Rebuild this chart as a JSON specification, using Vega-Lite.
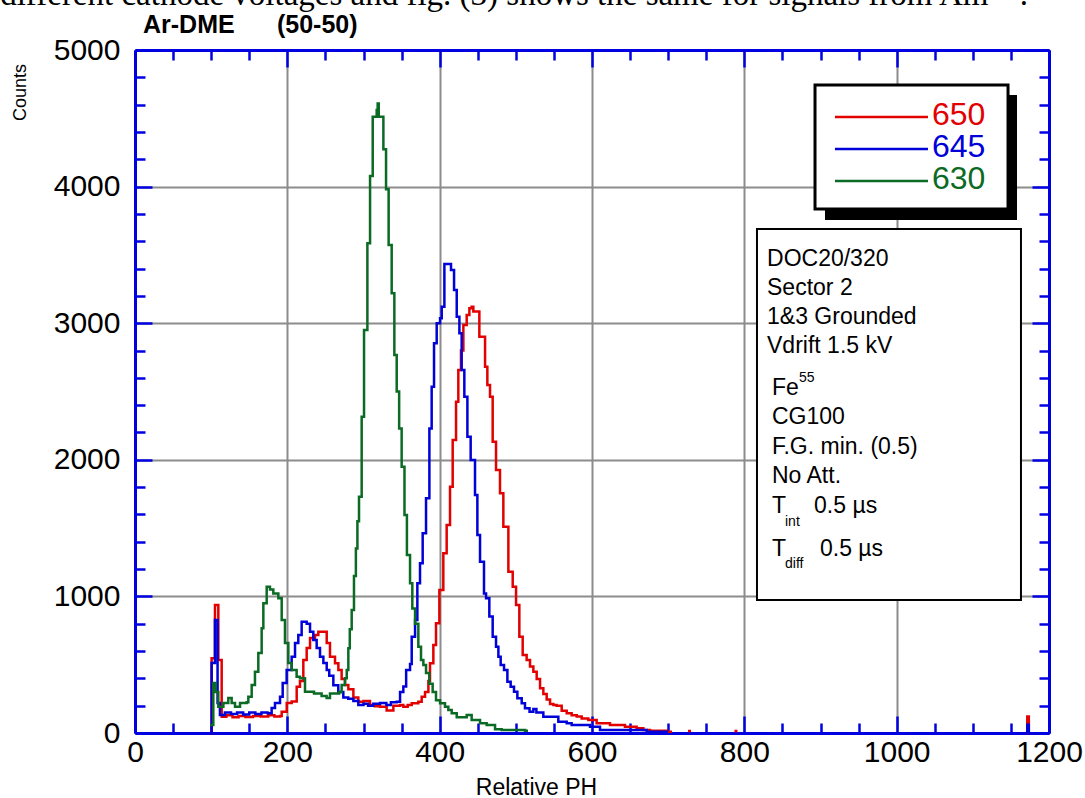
{
  "$schema": "https://vega.github.io/schema/vega-lite/v6.json",
  "width": 914,
  "height": 683,
  "autosize": {"type": "none"},
  "padding": {"left": 135, "top": 50, "right": 36, "bottom": 65},
  "background": "white",
  "config": {"view": {"stroke": null}, "font": "Liberation Sans"},
  "datasets": {
    "spectra": [
      {"v":"650","ph":98.5,"c":0},{"v":"650","ph":100.6,"c":547},{"v":"650","ph":105,"c":937},{"v":"650","ph":109.4,"c":534},{"v":"650","ph":113.8,"c":119},{"v":"650","ph":120,"c":130},{"v":"650","ph":128,"c":115},{"v":"650","ph":136,"c":125},{"v":"650","ph":145,"c":118},{"v":"650","ph":155,"c":125},{"v":"650","ph":165,"c":120},{"v":"650","ph":175,"c":130},{"v":"650","ph":183,"c":120},{"v":"650","ph":190.4,"c":125},{"v":"650","ph":192.6,"c":156},{"v":"650","ph":199.2,"c":219},{"v":"650","ph":205.7,"c":230},{"v":"650","ph":212.3,"c":339},{"v":"650","ph":216.6,"c":380},{"v":"650","ph":221,"c":534},{"v":"650","ph":225.4,"c":622},{"v":"650","ph":229.8,"c":695},{"v":"650","ph":236.3,"c":717},{"v":"650","ph":240.7,"c":742},{"v":"650","ph":251.7,"c":659},{"v":"650","ph":256,"c":559},{"v":"650","ph":262.6,"c":510},{"v":"650","ph":267,"c":461},{"v":"650","ph":271.3,"c":395},{"v":"650","ph":275.7,"c":351},{"v":"650","ph":280.1,"c":320},{"v":"650","ph":286.7,"c":260},{"v":"650","ph":293.2,"c":229},{"v":"650","ph":300,"c":235},{"v":"650","ph":308.5,"c":205},{"v":"650","ph":315,"c":195},{"v":"650","ph":321.7,"c":193},{"v":"650","ph":330.4,"c":165},{"v":"650","ph":339.2,"c":200},{"v":"650","ph":348,"c":205},{"v":"650","ph":352.3,"c":193},{"v":"650","ph":358,"c":205},{"v":"650","ph":363.3,"c":217},{"v":"650","ph":372,"c":229},{"v":"650","ph":376.4,"c":266},{"v":"650","ph":380.8,"c":300},{"v":"650","ph":385.2,"c":380},{"v":"650","ph":387.3,"c":510},{"v":"650","ph":391.7,"c":644},{"v":"650","ph":395.2,"c":803},{"v":"650","ph":399.6,"c":1047},{"v":"650","ph":404.8,"c":1315},{"v":"650","ph":409.2,"c":1523},{"v":"650","ph":413.6,"c":1803},{"v":"650","ph":417.1,"c":2145},{"v":"650","ph":421.5,"c":2425},{"v":"650","ph":424.5,"c":2657},{"v":"650","ph":428,"c":2800},{"v":"650","ph":431.1,"c":2987},{"v":"650","ph":435.5,"c":3060},{"v":"650","ph":439,"c":3109},{"v":"650","ph":442,"c":3121},{"v":"650","ph":444.2,"c":3085},{"v":"650","ph":452.1,"c":2901},{"v":"650","ph":459.6,"c":2682},{"v":"650","ph":462.6,"c":2547},{"v":"650","ph":466.1,"c":2462},{"v":"650","ph":469.6,"c":2133},{"v":"650","ph":474,"c":1925},{"v":"650","ph":479.2,"c":1755},{"v":"650","ph":483.6,"c":1510},{"v":"650","ph":490.2,"c":1181},{"v":"650","ph":495.9,"c":1071},{"v":"650","ph":500.3,"c":937},{"v":"650","ph":504.6,"c":705},{"v":"650","ph":509,"c":571},{"v":"650","ph":514.2,"c":534},{"v":"650","ph":518.6,"c":486},{"v":"650","ph":523,"c":449},{"v":"650","ph":527.4,"c":395},{"v":"650","ph":531.8,"c":327},{"v":"650","ph":536.1,"c":285},{"v":"650","ph":540.5,"c":245},{"v":"650","ph":544.9,"c":212},{"v":"650","ph":549.3,"c":205},{"v":"650","ph":553.6,"c":200},{"v":"650","ph":560.2,"c":162},{"v":"650","ph":566.8,"c":144},{"v":"650","ph":573.3,"c":130},{"v":"650","ph":580,"c":120},{"v":"650","ph":586.4,"c":107},{"v":"650","ph":595.2,"c":95},{"v":"650","ph":606.1,"c":71},{"v":"650","ph":623.6,"c":59},{"v":"650","ph":643.3,"c":46},{"v":"650","ph":658.6,"c":34},{"v":"650","ph":667.4,"c":22},{"v":"650","ph":676.1,"c":17},{"v":"650","ph":698,"c":10},{"v":"650","ph":705,"c":10},{"v":"650","ph":706,"c":null},{"v":"650","ph":726,"c":15},{"v":"650","ph":730,"c":15},{"v":"650","ph":731,"c":null},{"v":"650","ph":787,"c":15},{"v":"650","ph":791,"c":15},{"v":"650","ph":792,"c":null},{"v":"650","ph":1169.5,"c":0},{"v":"650","ph":1171.5,"c":120},{"v":"650","ph":1173.5,"c":0},
      {"v":"645","ph":98.5,"c":0},{"v":"645","ph":100.6,"c":512},{"v":"645","ph":105,"c":827},{"v":"645","ph":108.4,"c":220},{"v":"645","ph":111.5,"c":132},{"v":"645","ph":118,"c":150},{"v":"645","ph":126,"c":140},{"v":"645","ph":134,"c":150},{"v":"645","ph":142,"c":135},{"v":"645","ph":150,"c":150},{"v":"645","ph":158,"c":140},{"v":"645","ph":166,"c":150},{"v":"645","ph":174,"c":145},{"v":"645","ph":179.4,"c":183},{"v":"645","ph":183.8,"c":220},{"v":"645","ph":190.4,"c":266},{"v":"645","ph":193.9,"c":366},{"v":"645","ph":199.1,"c":461},{"v":"645","ph":205.7,"c":559},{"v":"645","ph":210.1,"c":659},{"v":"645","ph":214.4,"c":717},{"v":"645","ph":218.8,"c":815},{"v":"645","ph":225.4,"c":800},{"v":"645","ph":229.8,"c":742},{"v":"645","ph":234.1,"c":681},{"v":"645","ph":238.5,"c":622},{"v":"645","ph":242.9,"c":559},{"v":"645","ph":247.3,"c":512},{"v":"645","ph":251.7,"c":461},{"v":"645","ph":255,"c":420},{"v":"645","ph":260.4,"c":350},{"v":"645","ph":266.9,"c":300},{"v":"645","ph":273.5,"c":260},{"v":"645","ph":280,"c":250},{"v":"645","ph":286.7,"c":235},{"v":"645","ph":293.2,"c":205},{"v":"645","ph":300,"c":215},{"v":"645","ph":306,"c":200},{"v":"645","ph":312.9,"c":215},{"v":"645","ph":321.7,"c":220},{"v":"645","ph":330,"c":205},{"v":"645","ph":336,"c":225},{"v":"645","ph":343.6,"c":229},{"v":"645","ph":348,"c":300},{"v":"645","ph":352.3,"c":340},{"v":"645","ph":356,"c":461},{"v":"645","ph":361.1,"c":505},{"v":"645","ph":363.3,"c":705},{"v":"645","ph":367.7,"c":827},{"v":"645","ph":370.7,"c":1096},{"v":"645","ph":374.2,"c":1242},{"v":"645","ph":377.7,"c":1462},{"v":"645","ph":382.1,"c":1718},{"v":"645","ph":386.5,"c":2230},{"v":"645","ph":389.5,"c":2535},{"v":"645","ph":392.6,"c":2853},{"v":"645","ph":396.1,"c":3000},{"v":"645","ph":400.5,"c":3036},{"v":"645","ph":402.7,"c":3121},{"v":"645","ph":406.2,"c":3433},{"v":"645","ph":414.9,"c":3389},{"v":"645","ph":418.9,"c":3243},{"v":"645","ph":422.4,"c":3048},{"v":"645","ph":425.9,"c":2926},{"v":"645","ph":428.9,"c":2657},{"v":"645","ph":432.4,"c":2462},{"v":"645","ph":436.4,"c":2169},{"v":"645","ph":440.7,"c":1999},{"v":"645","ph":446.4,"c":1742},{"v":"645","ph":449.5,"c":1449},{"v":"645","ph":453,"c":1254},{"v":"645","ph":458.2,"c":1022},{"v":"645","ph":460.9,"c":986},{"v":"645","ph":465.2,"c":852},{"v":"645","ph":469.6,"c":705},{"v":"645","ph":474,"c":632},{"v":"645","ph":477.1,"c":559},{"v":"645","ph":480.1,"c":498},{"v":"645","ph":484.5,"c":461},{"v":"645","ph":488.9,"c":376},{"v":"645","ph":493.2,"c":339},{"v":"645","ph":497.6,"c":302},{"v":"645","ph":502,"c":254},{"v":"645","ph":507.7,"c":217},{"v":"645","ph":512,"c":181},{"v":"645","ph":518,"c":156},{"v":"645","ph":523,"c":175},{"v":"645","ph":527,"c":150},{"v":"645","ph":536.1,"c":119},{"v":"645","ph":549.3,"c":119},{"v":"645","ph":555.8,"c":83},{"v":"645","ph":566.8,"c":71},{"v":"645","ph":573.3,"c":59},{"v":"645","ph":597.4,"c":46},{"v":"645","ph":610.5,"c":22},{"v":"645","ph":671.8,"c":10},{"v":"645","ph":700,"c":10},{"v":"645","ph":701,"c":null},{"v":"645","ph":1169.5,"c":0},{"v":"645","ph":1171.5,"c":60},{"v":"645","ph":1173.5,"c":0},
      {"v":"630","ph":98.5,"c":59},{"v":"630","ph":102.8,"c":366},{"v":"630","ph":106,"c":300},{"v":"630","ph":109.4,"c":193},{"v":"630","ph":116,"c":220},{"v":"630","ph":122.5,"c":256},{"v":"630","ph":126.9,"c":220},{"v":"630","ph":131.3,"c":193},{"v":"630","ph":137.9,"c":220},{"v":"630","ph":146.6,"c":225},{"v":"630","ph":148.8,"c":266},{"v":"630","ph":153.2,"c":351},{"v":"630","ph":157.5,"c":449},{"v":"630","ph":161.9,"c":585},{"v":"630","ph":166.3,"c":767},{"v":"630","ph":168.5,"c":949},{"v":"630","ph":172.9,"c":1071},{"v":"630","ph":177.2,"c":1050},{"v":"630","ph":181.6,"c":1022},{"v":"630","ph":188.2,"c":986},{"v":"630","ph":192.6,"c":827},{"v":"630","ph":196.9,"c":659},{"v":"630","ph":201.3,"c":512},{"v":"630","ph":205.7,"c":461},{"v":"630","ph":212.2,"c":412},{"v":"630","ph":216.6,"c":400},{"v":"630","ph":223.2,"c":302},{"v":"630","ph":235,"c":290},{"v":"630","ph":245,"c":270},{"v":"630","ph":251.6,"c":256},{"v":"630","ph":256,"c":290},{"v":"630","ph":262.6,"c":290},{"v":"630","ph":268,"c":300},{"v":"630","ph":271.3,"c":351},{"v":"630","ph":275.7,"c":400},{"v":"630","ph":278,"c":461},{"v":"630","ph":280.1,"c":620},{"v":"630","ph":282,"c":760},{"v":"630","ph":284.5,"c":900},{"v":"630","ph":287.5,"c":1150},{"v":"630","ph":290,"c":1350},{"v":"630","ph":292,"c":1550},{"v":"630","ph":294.1,"c":1730},{"v":"630","ph":297.6,"c":2316},{"v":"630","ph":300.7,"c":2950},{"v":"630","ph":305.1,"c":3585},{"v":"630","ph":308.6,"c":4077},{"v":"630","ph":312.1,"c":4512},{"v":"630","ph":317.3,"c":4560},{"v":"630","ph":318.6,"c":4609},{"v":"630","ph":320,"c":4512},{"v":"630","ph":326.1,"c":4273},{"v":"630","ph":329.6,"c":3980},{"v":"630","ph":333,"c":3572},{"v":"630","ph":337,"c":3219},{"v":"630","ph":340.5,"c":2767},{"v":"630","ph":343.6,"c":2500},{"v":"630","ph":346.8,"c":2230},{"v":"630","ph":350.1,"c":1950},{"v":"630","ph":353.8,"c":1596},{"v":"630","ph":357,"c":1303},{"v":"630","ph":361.1,"c":1096},{"v":"630","ph":364.1,"c":912},{"v":"630","ph":367.7,"c":800},{"v":"630","ph":372,"c":632},{"v":"630","ph":375.5,"c":534},{"v":"630","ph":378.6,"c":498},{"v":"630","ph":382.1,"c":440},{"v":"630","ph":386.4,"c":360},{"v":"630","ph":390.8,"c":300},{"v":"630","ph":395.2,"c":240},{"v":"630","ph":400.5,"c":217},{"v":"630","ph":407,"c":193},{"v":"630","ph":411.4,"c":168},{"v":"630","ph":415.8,"c":144},{"v":"630","ph":422.4,"c":115},{"v":"630","ph":435.5,"c":131},{"v":"630","ph":442,"c":95},{"v":"630","ph":453,"c":71},{"v":"630","ph":461.7,"c":59},{"v":"630","ph":472.7,"c":27},{"v":"630","ph":481.4,"c":22},{"v":"630","ph":512.1,"c":17},{"v":"630","ph":516,"c":17}
    ]
  },
  "layer": [
    {
      "data": {"name": "spectra"},
      "mark": {"type": "line", "interpolate": "step-after", "strokeWidth": 2.5},
      "encoding": {
        "x": {"field": "ph", "type": "quantitative", "scale": {"domain": [0, 1200], "nice": false, "zero": false},
          "axis": {"orient": "bottom", "values": [0,50,100,150,200,250,300,350,400,450,500,550,600,650,700,750,800,850,900,950,1000,1050,1100,1150,1200],
            "grid": true, "gridColor": "#8c8c8c", "gridWidth": 2,
            "gridOpacity": {"condition": {"test": "datum.value % 200 === 0", "value": 1}, "value": 0},
            "tickSize": {"condition": {"test": "datum.value % 200 === 0", "value": -17}, "value": -10},
            "tickColor": "#0000e0", "tickWidth": 2.5, "domainColor": "#0000e0", "domainWidth": 3,
            "format": "d", "labelExpr": "datum.value % 200 === 0 ? datum.label : ''",
            "labelFont": "Liberation Sans", "labelFontSize": 30, "labelColor": "#000000", "labelPadding": 21, "labelFlush": false, "labelOverlap": false,
            "title": "Relative PH", "titleFont": "Liberation Sans", "titleFontSize": 23, "titleFontWeight": "normal", "titleColor": "#000000",
            "titleX": 401, "titleY": 61, "titleBaseline": "alphabetic", "titleAlign": "center", "zindex": 0}},
        "y": {"field": "c", "type": "quantitative", "scale": {"domain": [0, 5000], "nice": false, "zero": false},
          "axis": {"orient": "left", "values": [0,200,400,600,800,1000,1200,1400,1600,1800,2000,2200,2400,2600,2800,3000,3200,3400,3600,3800,4000,4200,4400,4600,4800,5000],
            "grid": true, "gridColor": "#8c8c8c", "gridWidth": 2,
            "gridOpacity": {"condition": {"test": "datum.value % 1000 === 0", "value": 1}, "value": 0},
            "tickSize": {"condition": {"test": "datum.value % 1000 === 0", "value": -17}, "value": -10},
            "tickColor": "#0000e0", "tickWidth": 2.5, "domainColor": "#0000e0", "domainWidth": 3,
            "format": "d", "labelExpr": "datum.value % 1000 === 0 ? datum.label : ''",
            "labelFont": "Liberation Sans", "labelFontSize": 30, "labelColor": "#000000", "labelPadding": 32, "labelFlush": false, "labelOverlap": false,
            "title": "Counts", "titleFont": "Liberation Sans", "titleFontSize": 18, "titleFontWeight": "normal", "titleColor": "#000000",
            "titleAngle": 270, "titleX": -115, "titleY": 42, "titleAlign": "center", "titleBaseline": "middle", "zindex": 0}},
        "color": {"field": "v", "type": "nominal", "scale": {"domain": ["650", "645", "630"], "range": ["#e30000", "#0000d8", "#0b6a24"]}, "legend": null}
      }
    },
    {
      "data": {"values": [{}]},
      "mark": {"type": "rect", "color": "#000000"},
      "encoding": {
        "x": {"datum": 905.9, "type": "quantitative",
          "axis": {"orient": "top", "values": [0,50,100,150,200,250,300,350,400,450,500,550,600,650,700,750,800,850,900,950,1000,1050,1100,1150,1200],
            "grid": false, "labels": false, "title": null,
            "tickSize": {"condition": {"test": "datum.value % 200 === 0", "value": -17}, "value": -10},
            "tickColor": "#0000e0", "tickWidth": 2.5, "domainColor": "#0000e0", "domainWidth": 3, "zindex": 0}},
        "x2": {"datum": 1158},
        "y": {"datum": 4670.5, "type": "quantitative",
          "axis": {"orient": "right", "values": [0,200,400,600,800,1000,1200,1400,1600,1800,2000,2200,2400,2600,2800,3000,3200,3400,3600,3800,4000,4200,4400,4600,4800,5000],
            "grid": false, "labels": false, "title": null,
            "tickSize": {"condition": {"test": "datum.value % 1000 === 0", "value": -17}, "value": -10},
            "tickColor": "#0000e0", "tickWidth": 2.5, "domainColor": "#0000e0", "domainWidth": 3, "zindex": 0}},
        "y2": {"datum": 3755.5}
      }
    },
    {
      "data": {"values": [{}]},
      "mark": {"type": "rect", "fill": "#ffffff", "stroke": "#000000", "strokeWidth": 3},
      "encoding": {"x": {"datum": 892.8, "type": "quantitative", "axis": null}, "x2": {"datum": 1146.2}, "y": {"datum": 4743.7, "type": "quantitative", "axis": null}, "y2": {"datum": 3836}}
    },
    {
      "data": {"values": [{}]},
      "mark": {"type": "rule", "color": "#e30000", "strokeWidth": 2.5},
      "encoding": {"x": {"datum": 919, "type": "quantitative", "axis": null}, "x2": {"datum": 1041.1}, "y": {"datum": 4509.5, "type": "quantitative", "axis": null}}
    },
    {
      "data": {"values": [{}]},
      "mark": {"type": "rule", "color": "#0000d8", "strokeWidth": 2.5},
      "encoding": {"x": {"datum": 919, "type": "quantitative", "axis": null}, "x2": {"datum": 1041.1}, "y": {"datum": 4275.2, "type": "quantitative", "axis": null}}
    },
    {
      "data": {"values": [{}]},
      "mark": {"type": "rule", "color": "#0b6a24", "strokeWidth": 2.5},
      "encoding": {"x": {"datum": 919, "type": "quantitative", "axis": null}, "x2": {"datum": 1041.1}, "y": {"datum": 4041, "type": "quantitative", "axis": null}}
    },
    {
      "data": {"values": [{}]},
      "mark": {"type": "text", "text": "650", "align": "left", "baseline": "alphabetic", "font": "Liberation Sans", "fontSize": 32, "color": "#e30000"},
      "encoding": {"x": {"datum": 1046.4, "type": "quantitative", "axis": null}, "y": {"datum": 4450.9, "type": "quantitative", "axis": null}}
    },
    {
      "data": {"values": [{}]},
      "mark": {"type": "text", "text": "645", "align": "left", "baseline": "alphabetic", "font": "Liberation Sans", "fontSize": 32, "color": "#0000d8"},
      "encoding": {"x": {"datum": 1046.4, "type": "quantitative", "axis": null}, "y": {"datum": 4216.7, "type": "quantitative", "axis": null}}
    },
    {
      "data": {"values": [{}]},
      "mark": {"type": "text", "text": "630", "align": "left", "baseline": "alphabetic", "font": "Liberation Sans", "fontSize": 32, "color": "#0b6a24"},
      "encoding": {"x": {"datum": 1046.4, "type": "quantitative", "axis": null}, "y": {"datum": 3982.4, "type": "quantitative", "axis": null}}
    },
    {
      "data": {"values": [{}]},
      "mark": {"type": "rect", "fill": "#ffffff", "stroke": "#000000", "strokeWidth": 2},
      "encoding": {"x": {"datum": 816.6, "type": "quantitative", "axis": null}, "x2": {"datum": 1163.2}, "y": {"datum": 3689.6, "type": "quantitative", "axis": null}, "y2": {"datum": 973.6}}
    },
    {
      "data": {"values": [{}]},
      "mark": {"type": "text", "text": ["DOC20/320", "Sector 2", "1&3 Grounded", "Vdrift 1.5 kV"], "lineHeight": 29, "align": "left", "baseline": "alphabetic", "font": "Liberation Sans", "fontSize": 23, "color": "#000000"},
      "encoding": {"x": {"datum": 829.8, "type": "quantitative", "axis": null}, "y": {"datum": 3418.7, "type": "quantitative", "axis": null}}
    },
    {
      "data": {"values": [{}]},
      "mark": {"type": "text", "text": ["Fe", "CG100", "F.G. min. (0.5)", "No Att."], "lineHeight": 29.5, "align": "left", "baseline": "alphabetic", "font": "Liberation Sans", "fontSize": 23, "color": "#000000"},
      "encoding": {"x": {"datum": 836.3, "type": "quantitative", "axis": null}, "y": {"datum": 2474.4, "type": "quantitative", "axis": null}}
    },
    {
      "data": {"values": [{}]},
      "mark": {"type": "text", "text": "55", "align": "left", "baseline": "alphabetic", "font": "Liberation Sans", "fontSize": 14, "color": "#000000"},
      "encoding": {"x": {"datum": 871.7, "type": "quantitative", "axis": null}, "y": {"datum": 2571.7, "type": "quantitative", "axis": null}}
    },
    {
      "data": {"values": [{}]},
      "mark": {"type": "text", "text": ["T", "T"], "lineHeight": 43, "align": "left", "baseline": "alphabetic", "font": "Liberation Sans", "fontSize": 23, "color": "#000000"},
      "encoding": {"x": {"datum": 836.3, "type": "quantitative", "axis": null}, "y": {"datum": 1610.5, "type": "quantitative", "axis": null}}
    },
    {
      "data": {"values": [{}]},
      "mark": {"type": "text", "text": ["int", "diff"], "lineHeight": 42, "align": "left", "baseline": "alphabetic", "font": "Liberation Sans", "fontSize": 14, "color": "#000000"},
      "encoding": {"x": {"datum": 853.4, "type": "quantitative", "axis": null}, "y": {"datum": 1515.4, "type": "quantitative", "axis": null}}
    },
    {
      "data": {"values": [{}]},
      "mark": {"type": "text", "text": "0.5 µs", "align": "left", "baseline": "alphabetic", "font": "Liberation Sans", "fontSize": 23, "color": "#000000"},
      "encoding": {"x": {"datum": 891.5, "type": "quantitative", "axis": null}, "y": {"datum": 1610.5, "type": "quantitative", "axis": null}}
    },
    {
      "data": {"values": [{}]},
      "mark": {"type": "text", "text": "0.5 µs", "align": "left", "baseline": "alphabetic", "font": "Liberation Sans", "fontSize": 23, "color": "#000000"},
      "encoding": {"x": {"datum": 899.3, "type": "quantitative", "axis": null}, "y": {"datum": 1295.7, "type": "quantitative", "axis": null}}
    },
    {
      "data": {"values": [{}]},
      "mark": {"type": "text", "text": "Ar-DME", "align": "left", "baseline": "alphabetic", "font": "Liberation Sans", "fontSize": 25, "fontWeight": "bold", "color": "#000000"},
      "encoding": {"x": {"datum": 10.5, "type": "quantitative", "axis": null}, "y": {"datum": 5124.4, "type": "quantitative", "axis": null}}
    },
    {
      "data": {"values": [{}]},
      "mark": {"type": "text", "text": "(50-50)", "align": "left", "baseline": "alphabetic", "font": "Liberation Sans", "fontSize": 25, "fontWeight": "bold", "color": "#000000"},
      "encoding": {"x": {"datum": 186.4, "type": "quantitative", "axis": null}, "y": {"datum": 5124.4, "type": "quantitative", "axis": null}}
    },
    {
      "data": {"values": [{}]},
      "mark": {"type": "text", "text": "different cathode voltages and fig. (3) shows the same for signals from Am²⁴¹.", "align": "left", "baseline": "alphabetic", "font": "Liberation Serif", "fontSize": 33, "color": "#000000"},
      "encoding": {"x": {"datum": -177, "type": "quantitative", "axis": null}, "y": {"datum": 5326, "type": "quantitative", "axis": null}}
    }
  ],
  "resolve": {"axis": {"x": "independent", "y": "independent"}}
}
